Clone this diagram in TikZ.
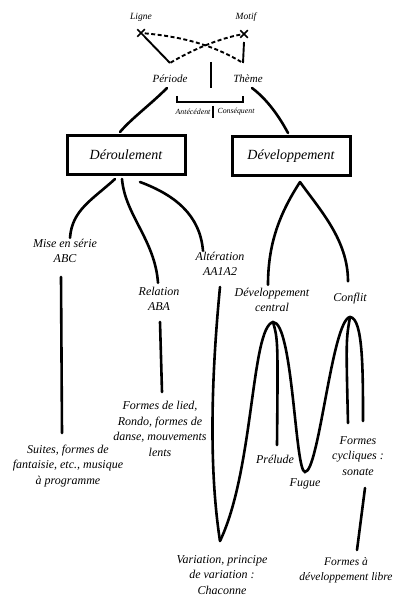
\documentclass[tikz,border=0pt]{standalone}
\usepackage{fontspec}
\setmainfont{Liberation Serif}
\usetikzlibrary{shapes.misc,calc}
\begin{document}
\begin{tikzpicture}[x=1pt,y=-1pt,
  lbl/.style={font=\itshape\fontsize{12}{15.5}\selectfont, align=center, inner sep=0pt},
  toplbl/.style={font=\itshape\fontsize{11}{13}\selectfont, inner sep=0pt},
  small/.style={font=\itshape\fontsize{9.5}{11}\selectfont, inner sep=0pt},
  tiny/.style={font=\itshape\fontsize{7.8}{9}\selectfont, inner sep=0pt},
  box/.style={draw, line width=3pt, minimum width=118pt, minimum height=39pt, font=\itshape\fontsize{14}{16}\selectfont},
  wire/.style={line width=2.6pt, line cap=round},
  thin/.style={line width=1.9pt},
  dashline/.style={line width=1.9pt, dash pattern=on 4pt off 2.5pt},
  xmark/.style={cross out, draw, line width=1.5pt, minimum size=6pt, inner sep=0pt}]
\useasboundingbox (0,0) rectangle (396,596);

% top part
\node[small] (ligne) at (141,17) {Ligne};
\node[small] (motif) at (246,17) {Motif};
\node[xmark] (lx) at (141,33) {};
\node[xmark] (mx) at (244,34) {};
\coordinate (P) at (170,63);
\coordinate (T) at (243,63);
\draw[thin] (lx) -- (P);
\draw[thin] ($(mx)+(0,8)$) coordinate (mxs) -- (T);
\draw[dashline] (lx) .. controls (185,37) and (215,46) .. (T);
\draw[dashline] (mx) .. controls (222,38) and (195,48) .. (P);

\node[toplbl] (periode) at (170,79) {Période};
\node[toplbl] (theme) at (248,79) {Thème};
\coordinate (b1) at (211,62);
\coordinate (b2) at (211,88);
\draw[thin] (b1) -- (b2);
\coordinate (k1) at (177,96);
\coordinate (k2) at (243,96);
\draw[thin] (k1) -- ($(k1)+(0,6)$) -- ($(k2)+(0,6)$) -- (k2);
\node[tiny] (ante) at (193,112) {Antécédent};
\node[tiny] (conse) at (236,112) {Conséquent};
\coordinate (c1) at (213,106);
\coordinate (c2) at (213,118);
\draw[line width=1.3pt] (c1) -- (c2);

% boxes
\node[box] (der) at (126,155) {Déroulement};
\node[box] (dev) at (291,156) {Développement};
\coordinate (p1) at (167,88);
\coordinate (t1) at (252,88);
\draw[wire] (p1) .. controls (150,105) and (132,118) .. ($(der.north)+(-6,-2)$);
\draw[wire] (t1) .. controls (268,100) and (280,118) .. ($(dev.north)+(-3,-2)$);

% Deroulement branches
\node[lbl] (mise) at (65,251) {Mise en série\\ABC};
\node[lbl] (relation) at (159,299) {Relation\\ABA};
\node[lbl] (alter) at (220,264) {Altération\\AA1A2};
\draw[wire] ($(der.south)+(-11,3)$) .. controls (92,200) and (72,210) .. ($(mise.north)+(5,-1)$);
\draw[wire] ($(der.south)+(-4,3)$) .. controls (125,215) and (155,240) .. ($(relation.north)+(-1,-4)$);
\draw[wire] ($(der.south)+(14,6)$) .. controls (175,195) and (200,215) .. ($(alter.north)+(-17,-1)$);

% Developpement branches
\node[lbl] (devc) at (272,300) {Développement\\central};
\node[lbl] (conflit) at (350,299) {Conflit};
\draw[wire] ($(dev.south)+(9,5)$) .. controls (282,210) and (268,240) .. ($(devc.north)+(-4,-3)$);
\draw[wire] ($(dev.south)+(9,5)$) .. controls (320,210) and (348,240) .. ($(conflit.north)+(-2,-12)$);

% verticals
\coordinate (abc1) at (61,277);
\coordinate (abc2) at (62,433);
\draw[wire] (abc1) -- (abc2);
\coordinate (aba1) at (160,322);
\coordinate (aba2) at (162,392);
\draw[wire] (aba1) -- (aba2);

% bottom labels
\node[lbl] (suites) at (68,466) {Suites, formes de\\fantaisie, etc., musique\\à programme};
\node[lbl] (lied) at (160,429) {Formes de lied,\\Rondo, formes de\\danse, mouvements\\lents};
\node[lbl] (variation) at (222,575) {Variation, principe\\de variation :\\Chaconne};
\node[lbl] (prelude) at (275,459) {Prélude};
\node[lbl] (fugue) at (305,484) {Fugue};
\node[lbl] (cycl) at (358,456) {Formes\\cycliques :\\sonate};
\node[lbl, font=\itshape\fontsize{11.5}{15}\selectfont] (libre) at (346,570) {Formes à\\développement libre};

% the wave
\coordinate (alt1) at (220,287);
\coordinate (vb) at (220,541);
\coordinate (pk1) at (273,322);
\coordinate (tr) at (305,472);
\coordinate (pk2) at (350,317);
\coordinate (ra) at (363,421);
\coordinate (pre) at (277,445);
\coordinate (cy) at (348,423);
\draw[wire] (alt1) .. controls (211,380) and (209,470) .. (vb);
\draw[wire] (vb) .. controls (254,470) and (251,328) .. (pk1)
  .. controls (293,322) and (295,472) .. (tr)
  .. controls (319,472) and (332,320) .. (pk2)
  .. controls (363,318) and (363,370) .. (ra);
\draw[wire] (pk1) .. controls (278,340) .. (pre);
\draw[wire] (pk2) .. controls (346,340) .. (cy);
\coordinate (s1) at (365,488);
\coordinate (s2) at (357,550);
\draw[wire] (s1) -- (s2);
\end{tikzpicture}
\end{document}
